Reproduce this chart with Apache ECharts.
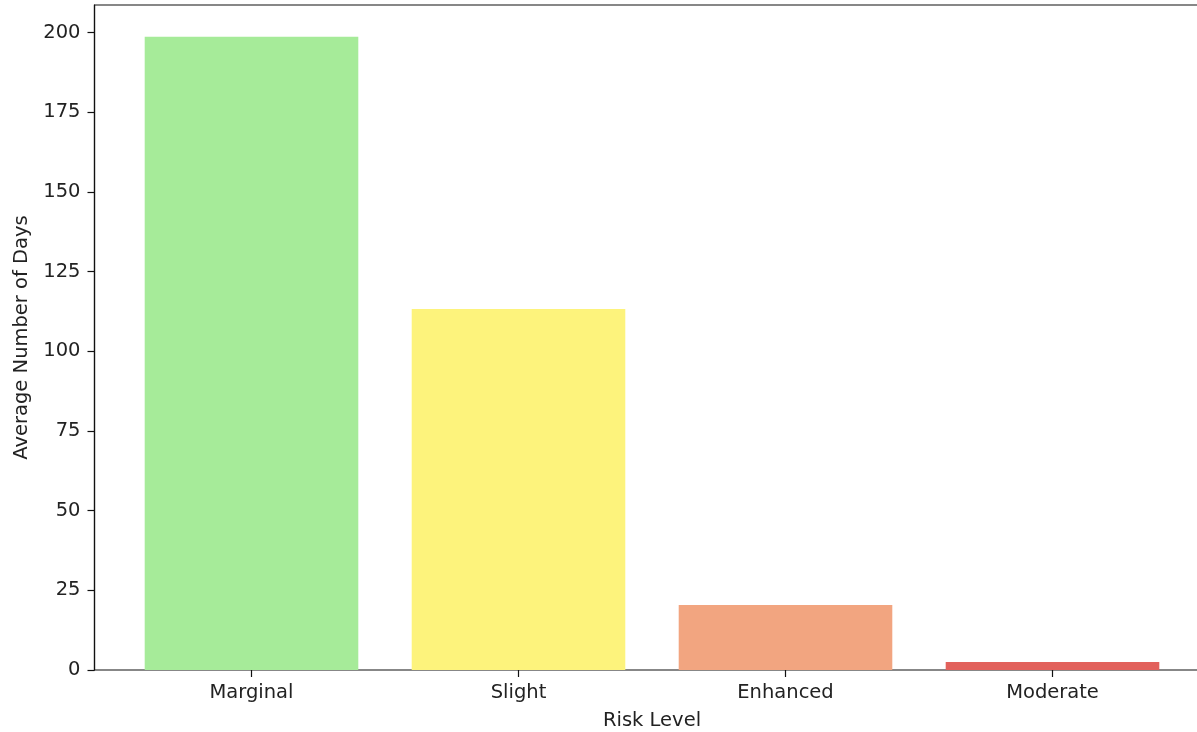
<!DOCTYPE html>
<html>
<head>
<meta charset="utf-8">
<script src="https://cdn.jsdelivr.net/npm/echarts@6/dist/echarts.min.js"></script>
<style>
html,body{margin:0;padding:0;background:#fff;}
#chart{width:1197px;height:732px;}
</style>
</head>
<body>
<div id="chart"></div>
<script>
const categories = ['Marginal', 'Slight', 'Enhanced', 'Moderate'];
const values = [198.7, 113.3, 20.4, 2.5];
const barColors = ['#a6eb99', '#fdf37c', '#f2a580', '#e2615c'];
const yTicks = [0, 25, 50, 75, 100, 125, 150, 175, 200];
const yMax = 208.7;

const chart = echarts.init(document.getElementById('chart'), null, {renderer: 'canvas'});
const font = 'DejaVu Sans';
chart.setOption({
  animation: false,
  backgroundColor: '#fff',
  grid: [
    {left: 94.5, width: 1116, top: 5, bottom: 62, outerBoundsMode: 'none', containLabel: false, show: true, borderColor: '#111', borderWidth: 1.2, backgroundColor: 'transparent'},
    {left: 118, right: 11, top: 5, bottom: 62, outerBoundsMode: 'none', containLabel: false}
  ],
  xAxis: [
    {gridIndex: 0, type: 'value', min: 0, max: 1, show: false},
    {
      gridIndex: 1, type: 'category', data: categories,
      axisLine: {show: false},
      axisTick: {show: true, alignWithLabel: true, length: 7, lineStyle: {color: '#111', width: 1.2}},
      axisLabel: {fontFamily: font, fontSize: 19.5, color: '#222', margin: 13},
      name: 'Risk Level', nameLocation: 'middle', nameGap: 41,
      nameTextStyle: {fontFamily: font, fontSize: 19.5, color: '#222'}
    }
  ],
  yAxis: [
    {
      gridIndex: 0, type: 'value', min: 0, max: yMax,
      splitLine: {show: false},
      axisLine: {show: true, lineStyle: {color: '#111', width: 1.2}},
      axisTick: {show: true, length: 7, customValues: yTicks, lineStyle: {color: '#111', width: 1.2}},
      axisLabel: {fontFamily: font, fontSize: 19.5, color: '#222', margin: 14, customValues: yTicks},
      name: 'Average Number of Days', nameLocation: 'middle', nameGap: 63, nameRotate: 90,
      nameTextStyle: {fontFamily: font, fontSize: 19.5, color: '#222'}
    },
    {gridIndex: 1, type: 'value', min: 0, max: yMax, show: false}
  ],
  series: [{
    type: 'bar',
    xAxisIndex: 1, yAxisIndex: 1,
    barWidth: '80%',
    data: values.map((v, i) => ({value: v, itemStyle: {color: barColors[i]}}))
  }]
});
</script>
</body>
</html>
